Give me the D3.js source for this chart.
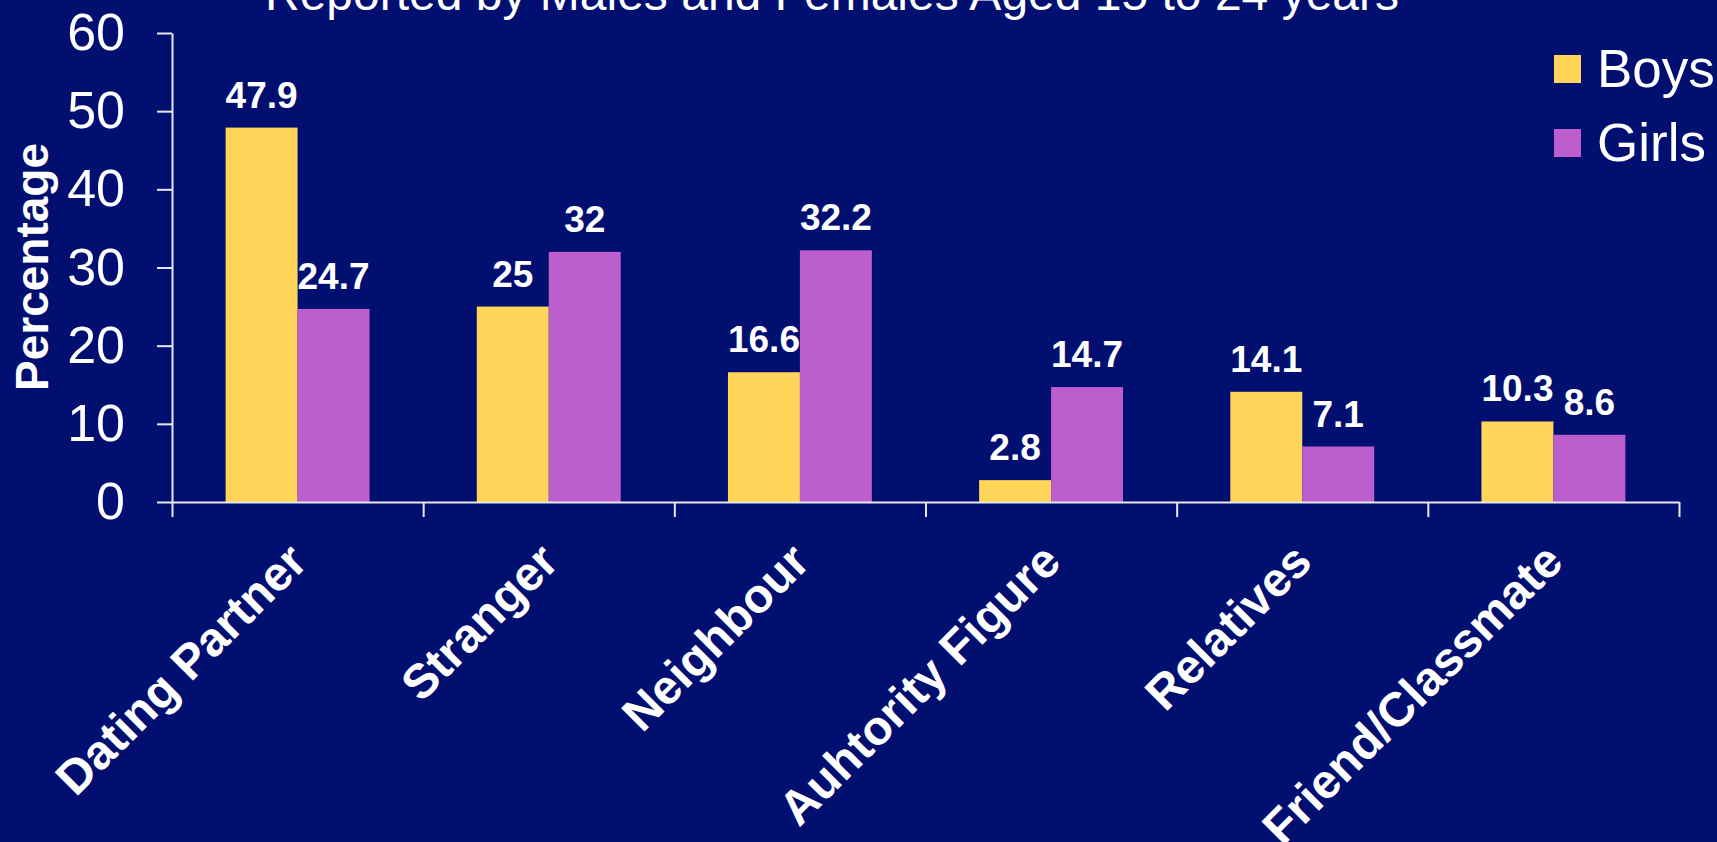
<!DOCTYPE html>
<html>
<head>
<meta charset="utf-8">
<script src="https://cdn.jsdelivr.net/npm/d3@7"></script>
<style>
  html, body { margin: 0; padding: 0; background: #000F70; }
  svg { display: block; }
  text { font-family: "Liberation Sans", Arial, sans-serif; fill: #ffffff; }
</style>
</head>
<body>
<svg id="chart" width="1717" height="842"></svg>
<script>
const title = "Reported by Males and Females Aged 15 to 24 years";
const categories = ["Dating Partner", "Stranger", "Neighbour", "Auhtority Figure", "Relatives", "Friend/Classmate"];
const seriesNames = ["Boys", "Girls"];
const boys  = [47.9, 25, 16.6, 2.8, 14.1, 10.3];
const girls = [24.7, 32, 32.2, 14.7, 7.1, 8.6];
const yTicks = [0, 10, 20, 30, 40, 50, 60];
const yLabel = "Percentage";
const colors = ["#FFD55A", "#BC5ECE"];

const W = 1717, H = 842;
const plotL = 172, plotR = 1679, plotT = 33, plotB = 502;

const svg = d3.select("#chart");
svg.append("rect").attr("width", W).attr("height", H).attr("fill", "#000F70");

const x0 = d3.scaleBand().domain(categories).range([plotL, plotR]).paddingInner(0.427).paddingOuter(0.2135);
const x1 = d3.scaleBand().domain(seriesNames).range([0, x0.bandwidth()]);
const y = d3.scaleLinear().domain([0, 60]).range([plotB, plotT]);
const xIdx = d3.scaleLinear().domain([0, categories.length]).range([plotL, plotR]);

const rows = categories.map((c, i) => ({cat: c, vals: [
  {s: seriesNames[0], v: boys[i]}, {s: seriesNames[1], v: girls[i]}]}));

// bars
const g = svg.append("g");
const grp = g.selectAll("g.cat").data(rows).join("g")
  .attr("transform", d => `translate(${x0(d.cat)},0)`);
grp.selectAll("rect").data(d => d.vals).join("rect")
  .attr("x", d => x1(d.s))
  .attr("y", d => y(d.v))
  .attr("width", x1.bandwidth())
  .attr("height", d => y(0) - y(d.v))
  .attr("fill", (d, i) => colors[i]);
grp.selectAll("text").data(d => d.vals).join("text")
  .attr("x", d => x1(d.s) + x1.bandwidth() / 2)
  .attr("y", d => y(d.v) - 20)
  .attr("text-anchor", "middle")
  .attr("font-size", 37)
  .attr("font-weight", "bold")
  .text(d => String(d.v));

// y axis
const yAxis = svg.append("g").attr("transform", `translate(${plotL},0)`)
  .call(d3.axisLeft(y).tickValues(yTicks).tickSize(15).tickSizeOuter(0).tickPadding(32));
yAxis.selectAll("text").attr("font-size", 52).attr("fill", "#fff").style("font-family", '"Liberation Sans", Arial, sans-serif');

// x axis (category boundary ticks)
const xAxis = svg.append("g").attr("transform", `translate(0,${plotB})`)
  .call(d3.axisBottom(xIdx).tickValues(d3.range(categories.length + 1)).tickSize(15).tickSizeOuter(0).tickFormat(""));

svg.selectAll(".domain, .tick line").attr("stroke", "#e8e8e8").attr("stroke-width", 2);

// category labels
svg.append("g").selectAll("text").data(categories).join("text")
  .attr("transform", d => `translate(${x0(d) + x0.bandwidth() / 2 + 12},${plotB + 62}) rotate(-45)`)
  .attr("text-anchor", "end")
  .attr("font-size", 48)
  .attr("font-weight", "bold")
  .text(d => d);

// y label
svg.append("text")
  .attr("transform", `translate(48,267) rotate(-90)`)
  .attr("text-anchor", "middle")
  .attr("font-size", 46)
  .attr("font-weight", "bold")
  .text(yLabel);

// title
svg.append("text")
  .attr("x", 832).attr("y", 9.5)
  .attr("text-anchor", "middle")
  .attr("font-size", 48)
  .text(title);

// legend
const lg = svg.append("g").attr("transform", "translate(1554,55)");
const li = lg.selectAll("g").data(seriesNames).join("g")
  .attr("transform", (d, i) => `translate(0,${i * 74})`);
li.append("rect").attr("width", 27).attr("height", 28).attr("fill", (d, i) => colors[i]);
li.append("text").attr("x", 43).attr("y", 31.5).attr("font-size", 53).text(d => d);
</script>
</body>
</html>
